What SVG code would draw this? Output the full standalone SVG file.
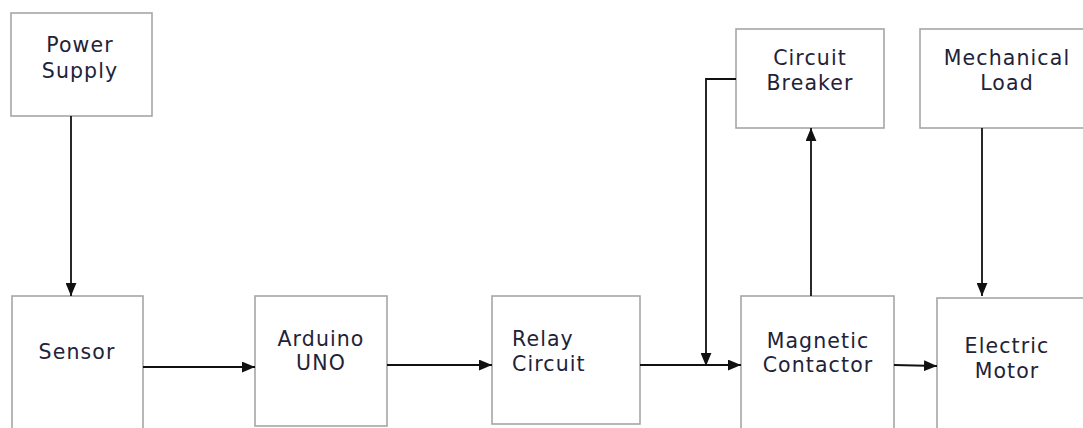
<svg xmlns="http://www.w3.org/2000/svg" width="1083" height="428" viewBox="0 0 1083 428">
<style>
.box{fill:#fff;stroke:#a6a6a6;stroke-width:1.6}
.lbl{font-family:"DejaVu Sans",sans-serif;font-size:20.5px;letter-spacing:1.1px;fill:#222238}
.c{text-anchor:middle}
.ln{fill:none;stroke:#111;stroke-width:1.8}
</style>
<defs>
<marker id="ah" viewBox="0 0 12 10" refX="12" refY="5" markerWidth="13" markerHeight="11" markerUnits="userSpaceOnUse" orient="auto">
<path d="M0,0 L12,5 L0,10 z" fill="#111"/>
</marker>
</defs>
<rect width="1083" height="428" fill="#fff"/>
<g id="power-supply"><rect class="box" x="11" y="13" width="141" height="103"/>
<text class="lbl c" x="80" y="52">Power</text><text class="lbl c" x="80" y="78">Supply</text></g>
<g id="circuit-breaker"><rect class="box" x="736" y="29" width="148" height="99"/>
<text class="lbl c" x="810" y="65">Circuit</text><text class="lbl c" x="810" y="90">Breaker</text></g>
<g id="mechanical-load"><rect class="box" x="920" y="29" width="170" height="99"/>
<text class="lbl c" x="1007" y="65">Mechanical</text><text class="lbl c" x="1007" y="90">Load</text></g>
<g id="sensor"><rect class="box" x="12" y="296" width="131" height="140"/>
<text class="lbl c" x="77" y="359">Sensor</text></g>
<g id="arduino"><rect class="box" x="255" y="296" width="132" height="130"/>
<text class="lbl c" x="321" y="346">Arduino</text><text class="lbl c" x="321" y="370">UNO</text></g>
<g id="relay"><rect class="box" x="492" y="296" width="148" height="128"/>
<text class="lbl" x="512" y="346">Relay</text><text class="lbl" x="512" y="371">Circuit</text></g>
<g id="magnetic-contactor"><rect class="box" x="741" y="296" width="153" height="140"/>
<text class="lbl c" x="818" y="348">Magnetic</text><text class="lbl c" x="818" y="372">Contactor</text></g>
<g id="electric-motor"><rect class="box" x="937" y="298" width="150" height="140"/>
<text class="lbl c" x="1007" y="353">Electric</text><text class="lbl c" x="1007" y="378">Motor</text></g>
<g id="connectors">
<line class="ln" x1="71" y1="116" x2="71" y2="296" marker-end="url(#ah)"/>
<line class="ln" x1="143" y1="367" x2="255" y2="367" marker-end="url(#ah)"/>
<line class="ln" x1="387" y1="365" x2="492" y2="365" marker-end="url(#ah)"/>
<line class="ln" x1="640" y1="365" x2="741" y2="365" marker-end="url(#ah)"/>
<polyline class="ln" points="736,79 706,79 706,366" marker-end="url(#ah)"/>
<line class="ln" x1="811" y1="296" x2="811" y2="128" marker-end="url(#ah)"/>
<line class="ln" x1="982" y1="128" x2="982" y2="296" marker-end="url(#ah)"/>
<line class="ln" x1="894" y1="365" x2="937" y2="366" marker-end="url(#ah)"/>
</g>
</svg>
